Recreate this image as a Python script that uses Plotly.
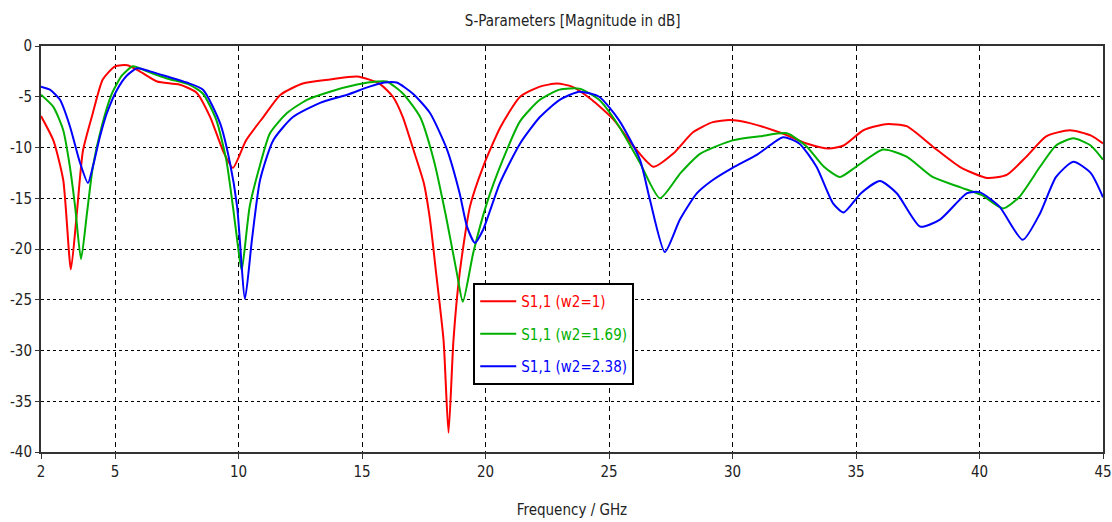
import plotly.graph_objects as go

# ---- data ----
freq_red = [2.0, 2.5, 2.9, 3.21, 3.45, 3.7, 4.1, 4.5, 5.0, 5.5, 6.0, 6.7, 7.6, 8.3, 8.85, 9.4, 9.77,
            10.3, 11.0, 11.7, 12.6, 13.7, 14.8, 15.7, 16.25, 16.65, 17.05, 17.5, 17.75, 18.0, 18.3, 18.5,
            18.7, 18.95, 19.37, 19.9, 20.6, 21.4, 22.2, 22.9, 23.5, 24.3, 25.2, 26.0, 26.8, 27.6, 28.4,
            29.2, 29.9, 30.7, 32.0, 33.0, 33.9, 34.5, 35.3, 36.2, 37.05, 38.1, 39.2, 40.3, 41.1, 41.9,
            42.7, 43.65, 44.5, 45.0]
s11_red = [-6.9, -9.3, -13.2, -22.0, -16.5, -10.3, -6.6, -3.3, -2.0, -1.9, -2.5, -3.5, -3.8, -4.6, -7.0, -10.5, -12.0,
           -9.3, -7.0, -4.8, -3.7, -3.3, -3.0, -3.7, -5.0, -7.0, -10.0, -13.5, -17.1, -22.4, -29.0, -38.1,
           -29.0, -22.4, -15.8, -11.9, -8.0, -5.0, -4.0, -3.7, -4.0, -5.3, -7.3, -9.9, -11.9, -10.6, -8.5,
           -7.5, -7.3, -7.6, -8.6, -9.6, -10.1, -9.8, -8.3, -7.7, -7.9, -9.9, -11.9, -13.0, -12.7, -10.9,
           -8.9, -8.3, -8.8, -9.6]

freq_green = [2.0, 2.5, 2.9, 3.17, 3.38, 3.62, 3.86, 4.1, 4.46, 4.87, 5.28, 5.72, 6.3, 7.1, 8.0, 8.56,
              9.1, 9.5, 9.77, 10.05, 10.13, 10.45, 10.85, 11.27, 11.96, 12.77, 13.7, 14.8, 15.6, 16.0,
              16.66, 17.35, 17.9, 18.4, 18.84, 19.08, 19.5, 20.05, 20.7, 21.4, 22.2, 23.0, 23.8, 24.6,
              25.4, 26.25, 27.06, 27.9, 28.7, 30.0, 31.1, 32.2, 33.0, 33.7, 34.35, 35.0, 36.1, 37.05,
              38.1, 39.2, 40.1, 40.95, 41.6, 42.45, 43.1, 43.8, 44.5, 45.0]
s11_green = [-4.8, -6.0, -8.3, -11.9, -15.8, -21.0, -16.5, -11.9, -7.9, -4.7, -2.9, -2.0, -2.5, -3.2, -3.8, -4.7,
             -7.3, -11.2, -15.8, -21.1, -22.1, -15.8, -11.9, -8.6, -6.6, -5.3, -4.5, -3.8, -3.5, -3.5,
             -4.7, -7.0, -11.2, -16.8, -22.4, -25.2, -20.4, -15.5, -11.2, -7.4, -5.3, -4.3, -4.2, -5.3,
             -7.9, -11.5, -15.0, -12.5, -10.6, -9.3, -8.9, -8.6, -9.9, -11.9, -12.9, -11.9, -10.2, -10.9,
             -12.9, -13.9, -14.7, -16.0, -14.9, -11.9, -9.8, -9.1, -9.8, -11.2]

freq_blue = [2.0, 2.36, 2.77, 3.17, 3.58, 3.9, 4.1, 4.39, 4.67, 5.08, 5.48, 5.89, 6.41, 7.1, 7.9, 8.56,
             9.25, 9.65, 9.94, 10.26, 10.54, 10.87, 11.4, 12.2, 13.3, 14.4, 15.3, 15.9, 16.4, 17.06,
             17.75, 18.44, 18.95, 19.25, 19.57, 19.9, 20.58, 21.4, 22.2, 23.0, 23.8, 24.6, 25.4, 26.25,
             26.66, 27.26, 27.87, 28.56, 29.2, 30.0, 31.0, 32.05, 32.7, 33.4, 34.07, 34.5, 35.2, 35.97,
             36.65, 37.6, 38.4, 39.5, 40.0, 40.8, 41.75, 42.45, 43.1, 43.8, 44.5, 45.0]
s11_blue = [-4.0, -4.3, -5.3, -7.9, -11.5, -13.5, -11.9, -8.9, -6.6, -4.3, -2.9, -2.2, -2.5, -3.0, -3.6, -4.3,
            -7.6, -11.5, -15.8, -24.9, -19.1, -13.2, -9.3, -7.0, -5.6, -4.8, -4.0, -3.6, -3.6, -4.7,
            -6.6, -10.2, -14.5, -17.8, -19.4, -18.1, -13.5, -9.6, -7.0, -5.3, -4.5, -5.0, -7.3, -11.2,
            -15.2, -20.3, -17.1, -14.5, -13.2, -12.0, -10.7, -9.0, -9.6, -11.9, -15.5, -16.4, -14.5, -13.3,
            -14.5, -17.8, -17.1, -14.5, -14.4, -15.8, -19.1, -16.5, -12.9, -11.4, -12.5, -14.9]

series_names = ["S1,1 (w2=1)", "S1,1 (w2=1.69)", "S1,1 (w2=2.38)"]
series_colors = ["#ff0000", "#00b000", "#0000ff"]
x_ticks = [2, 5, 10, 15, 20, 25, 30, 35, 40, 45]
y_ticks = [0, -5, -10, -15, -20, -25, -30, -35, -40]

FONT = "DejaVu Sans Condensed, Liberation Sans, sans-serif"

fig = go.Figure()
for i, (xs, ys, name, col) in enumerate(zip([freq_red, freq_green, freq_blue],
                                            [s11_red, s11_green, s11_blue],
                                            series_names, series_colors)):
    fig.add_trace(go.Scatter(
        x=xs, y=ys, mode="lines", legendgroup=f"g{i}",
        name=f"<span style='color:{col}'>{name}</span>",
        line=dict(color=col, width=2, shape="spline", smoothing=0.6),
    ))

fig.update_layout(
    width=1112, height=522,
    margin=dict(l=41, r=9, t=46, b=70, autoexpand=False),
    paper_bgcolor="white", plot_bgcolor="white",
    font=dict(family=FONT, size=15, color="#222"),
    title=dict(text="S-Parameters [Magnitude in dB]", x=0.515, xanchor="center",
               y=0.96, yanchor="middle", font=dict(family=FONT, size=15, color="#222")),
    showlegend=True,
    legend=dict(x=0.407, y=0.416, xanchor="left", yanchor="top",
                bgcolor="white", bordercolor="black", borderwidth=2,
                font=dict(family=FONT, size=15), tracegroupgap=10,
                itemwidth=36),
)
fig.update_xaxes(
    range=[2, 45], tickvals=x_ticks, ticktext=[str(v) for v in x_ticks],
    showgrid=True, gridcolor="black", gridwidth=1, griddash="5px,4px",
    showline=True, linecolor="#333", linewidth=2, mirror=True,
    ticks="outside", ticklen=5, tickcolor="#333", zeroline=False, automargin=False,
    title=dict(text="Frequency / GHz", font=dict(family=FONT, size=15), standoff=24),
    tickfont=dict(family=FONT, size=15),
)
fig.update_yaxes(
    range=[-40, 0], tickvals=y_ticks, ticktext=[str(v) for v in y_ticks],
    showgrid=True, gridcolor="black", gridwidth=1, griddash="3px,3px",
    showline=True, linecolor="#333", linewidth=2, mirror=True,
    ticks="outside", ticklen=4, tickcolor="#333", zeroline=False, automargin=False,
    tickfont=dict(family=FONT, size=15),
)

fig.write_html("out.html", config={"displayModeBar": False},
               post_script="document.body.style.margin='0';")
